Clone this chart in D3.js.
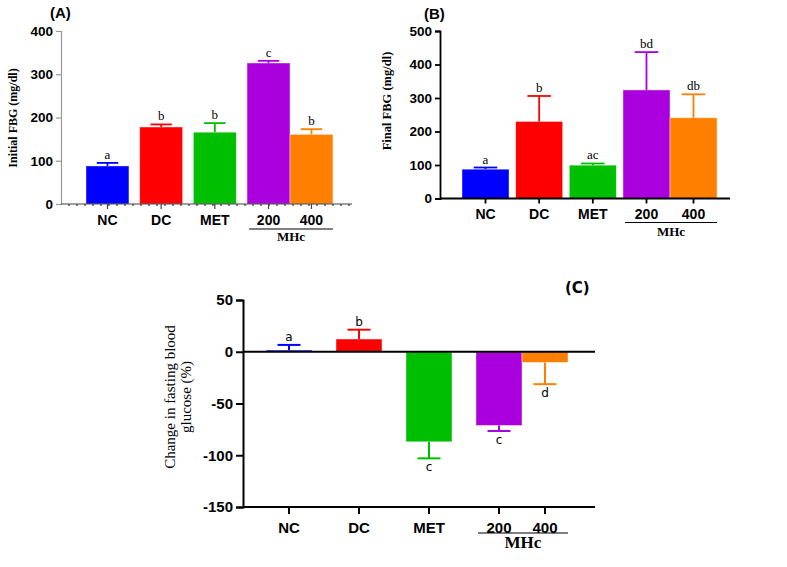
<!DOCTYPE html>
<html>
<head>
<meta charset="utf-8">
<script src="https://cdn.jsdelivr.net/npm/d3@7"></script>
<style>
  body { margin: 0; background: #fff; }
</style>
</head>
<body>
<div id="grafico"></div>
<script>
const WIDTH = 787;
const HEIGHT = 567;

// groups (last two belong to MHc doses)
const groups = ["NC", "DC", "MET", "200", "400"];
const barColors = ["#0000ff", "#ff0000", "#00bf00", "#aa00dd", "#ff8000"];

// (A) initial fasting blood glucose, mg/dl
const initialMean = [88, 178, 166, 326, 161];
const initialErr = [7, 6, 21, 5, 12];
const initialLetters = ["a", "b", "b", "c", "b"];
const initialTicks = [0, 100, 200, 300, 400];

// (B) final fasting blood glucose, mg/dl
const finalMean = [87.5, 230, 99.5, 324, 241];
const finalErr = [5, 76, 5, 113, 70];
const finalLetters = ["a", "b", "ac", "bd", "db"];
const finalTicks = [0, 100, 200, 300, 400, 500];

// (C) change in fasting blood glucose, %
const changeMean = [1.6, 12.3, -87, -71.2, -10.3];
const changeErr = [5, 9, 16, 5.4, 21];
const changeLetters = ["a", "b", "c", "c", "d"];
const changeTicks = [-150, -100, -50, 0, 50];

const SANS = "'Liberation Sans', Arial, sans-serif";
const SERIF = "'Liberation Serif', 'Times New Roman', serif";

let svg = d3.select("#grafico")
    .append("svg")
    .attr("width", WIDTH)
    .attr("height", HEIGHT);

function drawPanel(opt) {
    let g = svg.append("g");

    // 4 evenly spaced slots, the 400 dose sits right next to 200
    let band = d3.scaleBand()
        .domain(groups.slice(0, 4))
        .range(opt.xRange)
        .paddingInner(opt.pad)
        .paddingOuter(0);
    let bw = band.bandwidth();
    let xLeft = (d, i) => i < 4 ? band(d) : band(groups[3]) + bw;
    let xMid = (d, i) => xLeft(d, i) + bw / 2;

    let y = d3.scaleLinear()
        .domain(opt.yDomain)
        .range(opt.yRange);

    let rows = groups.map((d, i) => ({
        name: d, i: i, mean: opt.mean[i], err: opt.err[i],
        letter: opt.letters[i], color: barColors[i]
    }));

    // bars
    g.selectAll(".bar")
        .data(rows)
        .enter()
        .append("rect")
        .attr("x", d => xLeft(d.name, d.i))
        .attr("width", bw)
        .attr("y", d => y(Math.max(0, d.mean)))
        .attr("height", d => Math.abs(y(d.mean) - y(0)))
        .style("fill", d => d.color)
        .style("stroke", "#fff")
        .style("stroke-opacity", 0.5)
        .style("stroke-width", 0.8);

    // error bars (one-sided, away from zero)
    let tip = d => d.mean >= 0 ? d.mean + d.err : d.mean - d.err;
    let eb = g.selectAll(".err")
        .data(rows)
        .enter()
        .append("g")
        .style("stroke", d => d.color)
        .style("stroke-width", opt.errWidth);
    eb.append("line")
        .attr("x1", d => xMid(d.name, d.i))
        .attr("x2", d => xMid(d.name, d.i))
        .attr("y1", d => y(d.mean))
        .attr("y2", d => y(tip(d)));
    eb.append("line")
        .attr("x1", d => xMid(d.name, d.i) - bw * 0.25)
        .attr("x2", d => xMid(d.name, d.i) + bw * 0.25)
        .attr("y1", d => y(tip(d)))
        .attr("y2", d => y(tip(d)));

    // significance letters
    g.selectAll(".letter")
        .data(rows)
        .enter()
        .append("text")
        .attr("x", d => xMid(d.name, d.i))
        .attr("y", d => d.mean >= 0 ? y(tip(d)) - 4 : y(tip(d)) + 13)
        .attr("text-anchor", "middle")
        .style("font-family", opt.letterFont)
        .style("font-size", opt.letterSize + "px")
        .text(d => d.letter);

    // y axis
    let yAxis = g.append("g")
        .attr("transform", `translate(${opt.xAxisStart},0)`)
        .call(d3.axisLeft(y)
            .tickValues(opt.ticks)
            .tickFormat(d => String(d))
            .tickSize(opt.tickLen)
            .tickPadding(3));
    yAxis.select(".domain").style("stroke", opt.axisColor).style("stroke-width", opt.axisWidth);
    yAxis.selectAll(".tick line").style("stroke", opt.axisColor).style("stroke-width", opt.axisWidth);
    yAxis.selectAll(".tick text")
        .style("font-family", SANS)
        .style("font-weight", "bold")
        .style("font-size", opt.yTickSize + "px")
        .style("fill", "#000");

    // x axis line
    let baseY = y(opt.yDomain[0]);
    g.append("line")
        .attr("x1", opt.xAxisStart)
        .attr("x2", opt.xAxisEnd)
        .attr("y1", baseY)
        .attr("y2", baseY)
        .style("stroke", opt.xAxisColor)
        .style("stroke-width", opt.axisWidth);
    if (opt.dotted) {
        let minor = d3.range(opt.xAxisStart + 8, opt.xAxisEnd, 8);
        g.selectAll(".minor")
            .data(minor)
            .enter()
            .append("line")
            .attr("x1", d => d).attr("x2", d => d)
            .attr("y1", baseY).attr("y2", baseY + 2)
            .style("stroke", "#333")
            .style("stroke-width", 1.2);
    }
    if (opt.zeroLine) {
        g.append("line")
            .attr("x1", opt.xAxisStart)
            .attr("x2", opt.xAxisEnd)
            .attr("y1", y(0))
            .attr("y2", y(0))
            .style("stroke", "#000")
            .style("stroke-width", 2);
    }

    // category ticks + labels
    g.selectAll(".xtick")
        .data(rows)
        .enter()
        .append("line")
        .attr("x1", d => xMid(d.name, d.i))
        .attr("x2", d => xMid(d.name, d.i))
        .attr("y1", baseY)
        .attr("y2", baseY + opt.tickLen)
        .style("stroke", opt.xAxisColor)
        .style("stroke-width", opt.axisWidth);
    g.selectAll(".xlabel")
        .data(rows)
        .enter()
        .append("text")
        .attr("x", d => xMid(d.name, d.i))
        .attr("y", baseY + opt.labelDy)
        .attr("text-anchor", "middle")
        .style("font-family", SANS)
        .style("font-weight", "bold")
        .style("font-size", opt.xLabelSize + "px")
        .text(d => d.name);

    // MHc group bracket
    let gx0 = xLeft(groups[3], 3) + 2;
    let gx1 = xLeft(groups[4], 4) + bw + 0;
    g.append("line")
        .attr("x1", gx0).attr("x2", gx1)
        .attr("y1", baseY + opt.groupLineDy).attr("y2", baseY + opt.groupLineDy)
        .style("stroke", "#000")
        .style("stroke-width", 1.2);
    g.append("text")
        .attr("x", (gx0 + gx1) / 2)
        .attr("y", baseY + opt.groupTextDy)
        .attr("text-anchor", "middle")
        .style("font-family", SERIF)
        .style("font-weight", "bold")
        .style("font-size", opt.groupSize + "px")
        .text("MHc");

    // panel title
    g.append("text")
        .attr("x", opt.titleX)
        .attr("y", opt.titleY)
        .style("font-family", opt.titleFont)
        .style("font-weight", "bold")
        .style("font-size", "15px")
        .text(opt.title);

    // y label
    let yl = g.append("text")
        .attr("transform", `translate(${opt.yLabelX},${opt.yLabelY}) rotate(-90)`)
        .attr("text-anchor", "middle")
        .style("font-family", SERIF)
        .style("font-weight", opt.yLabelWeight)
        .style("font-size", opt.yLabelSize + "px");
    opt.yLabel.forEach((line, k) => {
        yl.append("tspan")
            .attr("x", 0)
            .attr("dy", k === 0 ? "0.35em" : "1.05em")
            .text(line);
    });
}

drawPanel({
    mean: initialMean, err: initialErr, letters: initialLetters, ticks: initialTicks,
    xRange: [86, 290], pad: 0.2,
    yDomain: [0, 400], yRange: [204, 31],
    xAxisStart: 61, xAxisEnd: 352,
    axisColor: "#999", xAxisColor: "#444", axisWidth: 1.2, tickLen: 5,
    dotted: true, zeroLine: false, errWidth: 1.8,
    yTickSize: 13.5, xLabelSize: 14, labelDy: 21,
    groupLineDy: 25, groupTextDy: 37, groupSize: 13,
    letterFont: SERIF, letterSize: 13,
    title: "(A)", titleX: 50, titleY: 18, titleFont: SANS,
    yLabel: ["Initial FBG (mg/dl)"], yLabelX: 13, yLabelY: 118, yLabelSize: 12, yLabelWeight: "bold"
});

drawPanel({
    mean: finalMean, err: finalErr, letters: finalLetters, ticks: finalTicks,
    xRange: [462, 670], pad: 0.124,
    yDomain: [0, 500], yRange: [198.5, 31],
    xAxisStart: 440, xAxisEnd: 730,
    axisColor: "#000", xAxisColor: "#000", axisWidth: 1.8, tickLen: 5,
    dotted: false, zeroLine: false, errWidth: 1.8,
    yTickSize: 13.5, xLabelSize: 14, labelDy: 20,
    groupLineDy: 24, groupTextDy: 37, groupSize: 13,
    letterFont: SERIF, letterSize: 13,
    title: "(B)", titleX: 424, titleY: 19, titleFont: SANS,
    yLabel: ["Final FBG (mg/dl)"], yLabelX: 387, yLabelY: 101, yLabelSize: 12.5, yLabelWeight: "bold"
});

drawPanel({
    mean: changeMean, err: changeErr, letters: changeLetters, ticks: changeTicks,
    xRange: [266, 522], pad: 0.343,
    yDomain: [-150, 50], yRange: [507, 300],
    xAxisStart: 243, xAxisEnd: 595,
    axisColor: "#000", xAxisColor: "#000", axisWidth: 2, tickLen: 7,
    dotted: false, zeroLine: true, errWidth: 2,
    yTickSize: 15, xLabelSize: 15, labelDy: 26,
    groupLineDy: 26, groupTextDy: 41, groupSize: 17,
    letterFont: "'DejaVu Sans', sans-serif", letterSize: 12,
    title: "(C)", titleX: 565, titleY: 293, titleFont: "'DejaVu Sans', sans-serif",
    yLabel: ["Change in fasting blood", "glucose (%)"], yLabelX: 170, yLabelY: 397, yLabelSize: 15, yLabelWeight: "normal"
});
</script>
</body>
</html>
